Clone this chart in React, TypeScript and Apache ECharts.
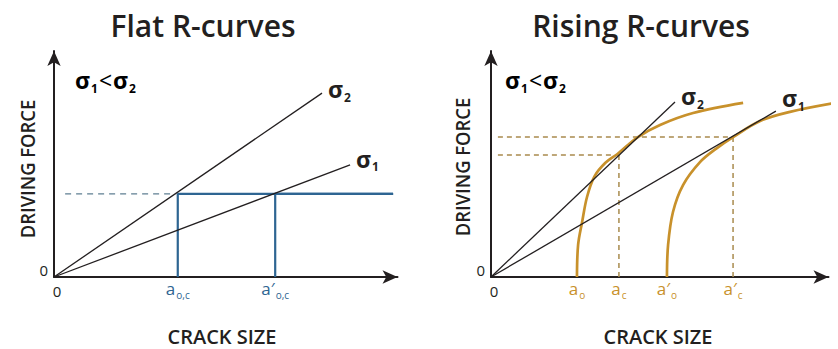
import React, { useEffect, useRef } from "react";
import * as echarts from "echarts";

// ---------- data (x: crack size, y: driving force, arbitrary units) ----------
const flatSigma2 = [[0, 0], [9.16, 7.86]];
const flatSigma1 = [[0, 0], [10.12, 4.79]];
const flatCriticalDash = [[0.38, 3.55], [4.15, 3.55]];
const flatRCurveA = [[4.23, 0], [4.23, 3.55], [11.59, 3.55]];
const flatRCurveB = [[7.56, 0], [7.56, 3.55], [11.59, 3.55]];
const flatTickValues = [0, 4.23, 7.56];
const flatTickLabels = ["{z|0}", "{a|a}{s|o,c}", "{a|a′}{s|o,c}"];

const risingSigma2 = [[0, 0], [6.4, 7.48]];
const risingSigma1 = [[0, 0], [9.91, 7.09]];
const risingRCurve1 = [
  [2.99, 0], [3.03, 1.37], [3.17, 2.35], [3.34, 3.42], [3.6, 4.3],
  [3.98, 4.88], [4.4, 5.26], [5.11, 5.98], [5.88, 6.5], [7.03, 7.01], [8.77, 7.44],
];
const risingRCurve2 = [
  [6.12, 0], [6.16, 1.37], [6.33, 2.78], [6.68, 3.93], [7.27, 4.91],
  [7.86, 5.51], [8.42, 5.98], [9.36, 6.67], [10.4, 7.06], [11.97, 7.44],
];
const risingUpperDash = [[0.24, 5.98], [8.42, 5.98]];
const risingLowerDash = [[0.24, 5.21], [4.45, 5.21]];
const risingAcDash = [[4.45, 0], [4.45, 5.21]];
const risingAcPrimeDash = [[8.42, 0], [8.42, 5.98]];
const risingTickValues = [0, 2.99, 4.45, 6.12, 8.42];
const risingTickLabels = ["{z|0}", "{a|a}{s|o}", "{a|a}{s|c}", "{a|a′}{s|o}", "{a|a′}{s|c}"];

const titles = ["Flat R-curves", "Rising R-curves"];
const yName = "DRIVING FORCE";
const xName = "CRACK SIZE";

// ---------- styles ----------
const FONT = '"Open Sans", "Noto Sans", sans-serif';
const DARK = "#231f20";
const BLUE = "#2e6592";
const ORANGE = "#c8912b";
const DASH_ORANGE = "#a98b4e";
const XMAX = 11.74;
const YMAX = 9.66;

const sigmaRich = {
  g: { fontFamily: FONT, fontSize: 23, fontWeight: "bold", color: DARK, lineHeight: 26 },
  n: { fontFamily: FONT, fontSize: 12, fontWeight: "bold", color: DARK, lineHeight: 12, padding: [16, 0, 0, 1] },
  lt: { fontFamily: FONT, fontSize: 23, color: DARK, lineHeight: 26, padding: [0, 1, 0, 1] },
};

function tickRich(color: string) {
  return {
    a: { fontFamily: FONT, fontSize: 17, fontWeight: 500, color, lineHeight: 18 },
    s: { fontFamily: FONT, fontSize: 10, fontWeight: 500, color, lineHeight: 10, padding: [14, 0, 0, 1] },
    z: { fontFamily: FONT, fontSize: 15, fontWeight: 500, color: DARK, lineHeight: 18, padding: [6, 0, 0, 6] },
  };
}

function axisLineStyle() {
  return {
    show: true,
    symbol: ["none", "arrow"],
    symbolSize: [10, 15],
    lineStyle: { color: DARK, width: 2 },
  };
}

function xAxis(gridIndex: number, values: number[], labels: string[], color: string) {
  return {
    type: "value",
    gridIndex,
    min: 0,
    max: XMAX,
    axisLine: axisLineStyle(),
    axisTick: { show: false },
    splitLine: { show: false },
    axisLabel: {
      show: true,
      customValues: values,
      margin: 2,
      formatter: (v: number) => {
        const i = values.findIndex((t) => Math.abs(t - v) < 1e-6);
        return i >= 0 ? labels[i] : "";
      },
      rich: tickRich(color),
    },
  };
}

function yAxis(gridIndex: number) {
  return {
    type: "value",
    gridIndex,
    min: 0,
    max: YMAX,
    axisLine: axisLineStyle(),
    axisTick: { show: false },
    splitLine: { show: false },
    axisLabel: {
      show: true,
      customValues: [0],
      formatter: () => "0",
      margin: 6,
      color: DARK,
      fontFamily: FONT,
      fontWeight: 500,
      fontSize: 15,
      verticalAlign: "bottom",
      lineHeight: 15,
    },
  };
}

function lineSeries(data: any[], idx: number, color: string, width: number, extra: any = {}) {
  const { lineStyle, ...rest } = extra;
  return {
    type: "line",
    xAxisIndex: idx,
    yAxisIndex: idx,
    data,
    symbol: "none",
    clip: false,
    silent: true,
    ...rest,
    lineStyle: { color, width, ...(lineStyle || {}) },
  };
}

function sigmaLine(data: number[][], idx: number, sub: string, offset: number[]) {
  return lineSeries(data, idx, DARK, 1.3, {
    endLabel: {
      show: true,
      distance: 6,
      offset,
      formatter: `{g|σ}{n|${sub}}`,
      rich: sigmaRich,
    },
  });
}

const sigmaCompare = "{g|σ}{n|1}{lt|<}{g|σ}{n|2}";

const textStyleBase = { fill: DARK, textAlign: "center", textVerticalAlign: "middle" };

export default function App() {
  const ref = useRef<HTMLDivElement>(null);
  useEffect(() => {
    if (!ref.current) return;
    const chart = echarts.init(ref.current, undefined, { renderer: "svg" });
    const option: any = {
      animation: false,
      backgroundColor: "#ffffff",
      grid: [
        { left: 54, top: 51, width: 343.5, height: 226, outerBoundsMode: "none", containLabel: false },
        { left: 491, top: 51, width: 337.5, height: 226, outerBoundsMode: "none", containLabel: false },
      ],
      xAxis: [
        xAxis(0, flatTickValues, flatTickLabels, BLUE),
        xAxis(1, risingTickValues, risingTickLabels, ORANGE),
      ],
      yAxis: [yAxis(0), yAxis(1)],
      series: [
        // flat panel
        lineSeries(flatCriticalDash, 0, "#5f7f92", 1.2, { lineStyle: { type: [6, 5] } }),
        lineSeries(flatRCurveA, 0, BLUE, 2.2),
        lineSeries(flatRCurveB, 0, BLUE, 2.2),
        sigmaLine(flatSigma2, 0, "2", [0, -4]),
        sigmaLine(flatSigma1, 0, "1", [0, -6]),
        // rising panel
        lineSeries(risingUpperDash, 1, DASH_ORANGE, 1.5, { lineStyle: { type: [5, 4] } }),
        lineSeries(risingLowerDash, 1, DASH_ORANGE, 1.5, { lineStyle: { type: [5, 4] } }),
        lineSeries(risingAcDash, 1, DASH_ORANGE, 1.5, { lineStyle: { type: [5, 4] } }),
        lineSeries(risingAcPrimeDash, 1, DASH_ORANGE, 1.5, { lineStyle: { type: [5, 4] } }),
        lineSeries(risingRCurve1, 1, ORANGE, 2.7, { smooth: 0.35 }),
        lineSeries(risingRCurve2, 1, ORANGE, 2.7, { smooth: 0.35 }),
        sigmaLine(risingSigma2, 1, "2", [0, -6]),
        sigmaLine(risingSigma1, 1, "1", [0, -13]),
      ],
      graphic: [
        { type: "text", x: 203, y: 25, style: { ...textStyleBase, text: titles[0], font: `600 30px ${FONT}` } },
        { type: "text", x: 641, y: 25, style: { ...textStyleBase, text: titles[1], font: `600 30px ${FONT}` } },
        { type: "text", x: 27, y: 169, rotation: Math.PI / 2, scaleX: 0.92, style: { ...textStyleBase, text: yName, font: `600 20px ${FONT}` } },
        { type: "text", x: 462, y: 167, rotation: Math.PI / 2, scaleX: 0.92, style: { ...textStyleBase, text: yName, font: `600 20px ${FONT}` } },
        { type: "text", x: 222, y: 336, style: { ...textStyleBase, text: xName, font: `600 20px ${FONT}` } },
        { type: "text", x: 658, y: 336, style: { ...textStyleBase, text: xName, font: `600 20px ${FONT}` } },
        { type: "text", x: 75, y: 80, style: { text: sigmaCompare, rich: sigmaRich, textAlign: "left", textVerticalAlign: "middle" } },
        { type: "text", x: 505, y: 80, style: { text: sigmaCompare, rich: sigmaRich, textAlign: "left", textVerticalAlign: "middle" } },
      ],
    };
    chart.setOption(option);
    return () => chart.dispose();
  }, []);
  return (
    <div
      ref={ref}
      style={{ position: "fixed", left: 0, top: 0, width: 838, height: 349, background: "#fff" }}
    />
  );
}
